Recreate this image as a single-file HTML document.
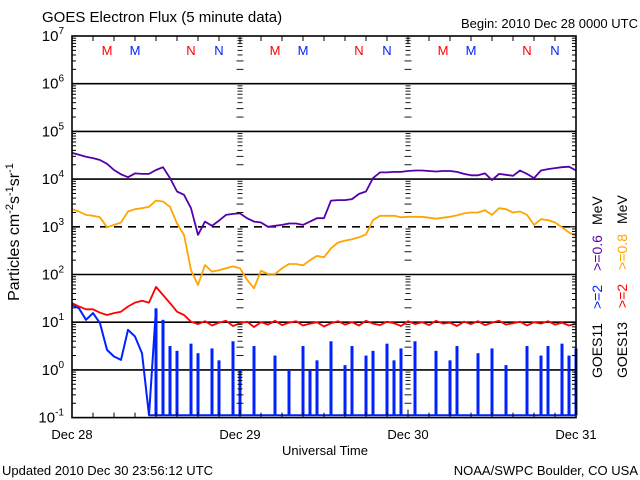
<!DOCTYPE html>
<html><head><meta charset="utf-8"><style>
html,body{margin:0;padding:0;background:#fff;}
svg{display:block;font-family:"Liberation Sans",sans-serif;}
</style></head><body>
<svg id="chart" width="640" height="480" viewBox="0 0 640 480">
<rect x="0" y="0" width="640" height="480" fill="#fff"/>
<text x="42" y="22" font-size="15">GOES Electron Flux (5 minute data)</text>
<text x="638" y="28" font-size="13" text-anchor="end">Begin: 2010 Dec 28 0000 UTC</text>
<g id="grid"></g>
<g id="series"></g>
<g id="axes"></g>
<text transform="translate(19,232) rotate(-90)" font-size="16" text-anchor="middle">Particles cm<tspan dy="-6" font-size="11">-2</tspan><tspan dy="6">s</tspan><tspan dy="-6" font-size="11">-1</tspan><tspan dy="6">sr</tspan><tspan dy="-6" font-size="11">-1</tspan></text>
<text x="325" y="455" font-size="13" text-anchor="middle">Universal Time</text>
<text x="2" y="475" font-size="13">Updated 2010 Dec 30 23:56:12 UTC</text>
<text x="638" y="475" font-size="13" text-anchor="end">NOAA/SWPC Boulder, CO USA</text>
<text transform="translate(602,378) rotate(-90)" font-size="14"><tspan fill="#000">GOES11</tspan><tspan dx="14" fill="#0022ff">&gt;=2</tspan><tspan dx="14" fill="#5500aa">&gt;=0.6</tspan><tspan dx="10" fill="#000">MeV</tspan></text>
<text transform="translate(627,378) rotate(-90)" font-size="14"><tspan fill="#000">GOES13</tspan><tspan dx="14" fill="#ff0000">&gt;=2</tspan><tspan dx="14" fill="#ffa500">&gt;=0.8</tspan><tspan dx="10" fill="#000">MeV</tspan></text>
</svg>
<script>
const dayLabels = ["Dec 28","Dec 29","Dec 30","Dec 31"];
const decades = [-1,0,1,2,3,4,5,6,7];
const satMarks = ["M","M","N","N"];
const satMarkHours = [5,9,17,21];
// hourly log10 flux values, t = 0..72 h
const purple = [4.55,4.51,4.47,4.44,4.40,4.32,4.19,4.10,4.04,4.12,4.11,4.11,4.19,4.25,4.02,3.74,3.67,3.39,2.83,3.11,3.02,3.13,3.25,3.27,3.28,3.18,3.11,3.09,3.00,3.02,3.04,3.07,3.07,3.04,3.11,3.18,3.18,3.55,3.56,3.56,3.58,3.69,3.74,4.02,4.14,4.14,4.15,4.15,4.17,4.18,4.18,4.17,4.16,4.17,4.17,4.15,4.11,4.08,4.08,4.12,3.98,4.11,4.09,4.07,4.18,4.11,4.02,4.18,4.21,4.23,4.25,4.26,4.18];
const orange = [3.37,3.32,3.25,3.23,3.20,2.99,3.04,3.09,3.32,3.37,3.39,3.42,3.55,3.53,3.42,3.07,2.83,2.09,1.78,2.20,2.06,2.09,2.13,2.17,2.13,1.89,1.71,2.08,2.01,2.01,2.13,2.22,2.22,2.19,2.30,2.39,2.36,2.55,2.67,2.71,2.74,2.78,2.84,3.14,3.23,3.23,3.23,3.20,3.21,3.21,3.21,3.19,3.17,3.19,3.21,3.24,3.28,3.30,3.30,3.35,3.25,3.39,3.37,3.30,3.32,3.25,3.04,3.16,3.14,3.09,2.99,2.88,2.81];
const red = [1.40,1.33,1.27,1.27,1.20,1.15,1.19,1.22,1.33,1.41,1.45,1.41,1.74,1.57,1.40,1.22,1.15,1.01,0.96,1.02,0.93,0.99,1.03,0.92,0.98,1.01,0.90,1.00,0.95,1.03,0.94,0.99,1.02,0.93,0.97,1.00,0.91,0.98,1.02,0.95,1.00,0.93,1.03,0.97,0.94,1.01,0.98,0.92,1.02,0.96,1.00,0.94,1.03,0.97,0.99,0.92,1.01,0.96,1.02,0.94,0.99,1.03,0.95,0.98,1.01,0.93,1.00,0.97,1.02,0.95,0.99,0.93,0.97];
const blue = [1.36,1.29,1.05,1.19,0.98,0.42,0.28,0.21,0.84,0.70,0.35,-0.95,1.29,1.05,0.50,0.40,-0.95,0.55,0.35,-0.95,0.45,0.20,-0.95,0.60,0.00,-0.95,0.50,-0.95,-0.95,0.30,-0.95,0.00,-0.95,0.50,0.00,0.20,-0.95,0.60,-0.95,0.10,0.50,-0.95,0.30,0.40,-0.95,0.55,0.20,0.45,-0.95,0.60,-0.95,-0.95,0.40,-0.95,0.20,0.50,-0.95,-0.95,0.35,-0.95,0.45,-0.95,0.10,-0.95,-0.95,0.50,-0.95,0.30,0.50,-0.95,0.55,0.30,0.45];

const NS="http://www.w3.org/2000/svg";
const X0=72, DAYW=168, Y7=36, DEC=47.7;
function xs(h){return X0+h*DAYW/24;}
function ys(l){return Y7+(7-l)*DEC;}
function mk(tag,attrs,parent){const e=document.createElementNS(NS,tag);for(const k in attrs)e.setAttribute(k,attrs[k]);parent.appendChild(e);return e;}
const grid=document.getElementById('grid'), axes=document.getElementById('axes'), ser=document.getElementById('series');
const L=xs(0), R=xs(72), T=ys(7), B=ys(-1);

decades.forEach(d=>{
  if(d===-1||d===7) return;
  const l=mk('line',{x1:L,x2:R,y1:ys(d),y2:ys(d),stroke:'#000','stroke-width':1.6},grid);
  if(d===3) l.setAttribute('stroke-dasharray','8,6');
  
  
});
function logTicks(x,dirs){
  for(let d=-1;d<7;d++){
    for(let m=1;m<=10;m++){
      const y=ys(d+Math.log10(m));
      const len=(m===1||m===10)?7:4;
      dirs.forEach(s=>mk('line',{x1:x,x2:x+s*len,y1:y,y2:y,stroke:'#000','stroke-width':1},axes));
    }
  }
}
logTicks(L,[1]); logTicks(R,[-1]);
[24,48].forEach(h=>{const x=xs(h);for(let d=-1;d<7;d++){for(let m=2;m<=9;m++){const y=ys(d+Math.log10(m));const len=(m<=3)?3.5:2.5;mk('line',{x1:x-len,x2:x+len,y1:y,y2:y,stroke:'#000','stroke-width':0.9},axes);}}});
for(let h=3;h<72;h+=3){const x=xs(h);const len=(h%24===0)?8:5;mk('line',{x1:x,x2:x,y1:B,y2:B-len,stroke:'#000'},axes);mk('line',{x1:x,x2:x,y1:T,y2:T+len,stroke:'#000'},axes);}
const frame=mk('rect',{x:L,y:T,width:R-L,height:B-T,fill:'none',stroke:'#000','stroke-width':1.6},axes);



decades.forEach(d=>{
  const t=mk('text',{x:64,y:ys(d)+5,'font-size':15,'text-anchor':'end'},axes);
  t.textContent='10';
  const s=mk('tspan',{dy:-7,'font-size':10},t); s.textContent=String(d);
  
  
});
dayLabels.forEach((lab,i)=>{
  const t=mk('text',{x:xs(i*24),y:439,'font-size':13,'text-anchor':'middle'},axes);
  t.textContent=lab;
  
  
});
for(let day=0;day<3;day++){satMarks.forEach((m,i)=>{
  const t=mk('text',{x:xs(day*24+satMarkHours[i]),y:55,'font-size':13,'text-anchor':'middle',fill:(i%2===0)?'#ff0000':'#0022ff'},axes);
  t.textContent=m;
  
  
});}

function clampL(v){return Math.max(-0.97,Math.min(7,v));}
function poly(arr,color,name,w,n){
  const a=n?arr.slice(0,n):arr;
  const pts=a.map((v,i)=>xs(i).toFixed(1)+','+ys(clampL(v)).toFixed(1)).join(' ');
  const p=mk('polyline',{points:pts,fill:'none',stroke:color,'stroke-width':w,'stroke-linejoin':'round'},ser);
  
  
}
const fl=mk('line',{x1:xs(11),x2:R-1,y1:ys(-0.95),y2:ys(-0.95),stroke:'#0022ff','stroke-width':2},ser);


blue.forEach((v,i)=>{
  if(i>=12 && v>-0.9){const b=mk('rect',{x:xs(i)-1.5,width:3,y:ys(clampL(v)),height:ys(-0.95)-ys(clampL(v)),fill:'#0022ff'},ser);
  
  }
});
poly(blue,'#0022ff','goes11-2mev-line',2,13);
poly(red,'#ff0000','goes13-2mev-line',1.8);
poly(orange,'#ffa500','goes13-08mev-line',1.8);
poly(purple,'#5500aa','goes11-06mev-line',1.8);
</script>
</body></html>
